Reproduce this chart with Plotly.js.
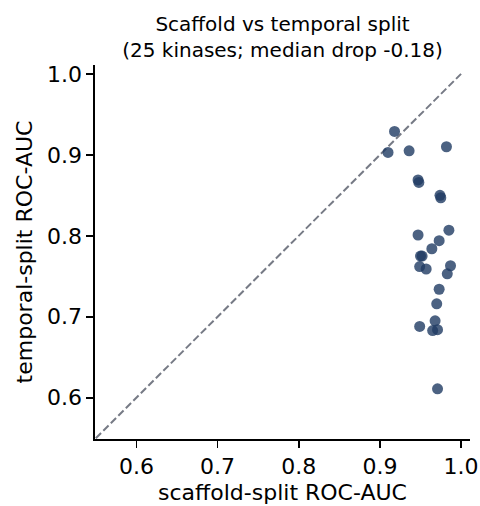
<!DOCTYPE html>
<html>
<head>
<meta charset="utf-8">
<script src="https://cdn.plot.ly/plotly-3.0.1.min.js"></script>
<style>
html,body{margin:0;padding:0;background:#fff;}
#chart{width:480px;height:506px;}
</style>
</head>
<body>
<div id="chart"></div>
<script>
// Data
const scaffoldAUC = [0.918, 0.910, 0.936, 0.982, 0.947, 0.948, 0.974, 0.975, 0.947, 0.985,
                     0.973, 0.964, 0.950, 0.952, 0.949, 0.957, 0.987, 0.983, 0.973, 0.970,
                     0.968, 0.949, 0.965, 0.971, 0.971];
const temporalAUC = [0.929, 0.903, 0.905, 0.910, 0.869, 0.866, 0.850, 0.847, 0.801, 0.807,
                     0.794, 0.784, 0.775, 0.775, 0.762, 0.759, 0.763, 0.753, 0.734, 0.716,
                     0.695, 0.688, 0.683, 0.684, 0.611];
const diagonal = [0.55, 1.0];
const tickVals = [0.6, 0.7, 0.8, 0.9, 1.0];
const tickText = ["0.6", "0.7", "0.8", "0.9", "1.0"];
const axisRange = [0.549, 1.011];

const FONT = "DejaVu Sans, Liberation Sans, sans-serif";

const traces = [
  {
    x: diagonal, y: diagonal, type: "scatter", mode: "lines",
    line: {color: "#767a85", width: 2, dash: "7.4px,3.2px"},
    hoverinfo: "skip", showlegend: false, cliponaxis: true
  },
  {
    x: scaffoldAUC, y: temporalAUC, type: "scatter", mode: "markers",
    marker: {color: "rgb(31,59,99)", opacity: 0.8, size: 11, line: {width: 0}},
    showlegend: false
  }
];

const axisCommon = {
  range: axisRange,
  tickvals: tickVals,
  ticktext: tickText,
  showgrid: false,
  zeroline: false,
  showline: true,
  linecolor: "#000",
  linewidth: 1.6,
  ticks: "outside",
  ticklen: 7,
  tickwidth: 1.6,
  tickcolor: "#000",
  tickfont: {family: FONT, size: 22, color: "#000"},
  mirror: false
};

const layout = {
  width: 480, height: 506,
  margin: {l: 95, r: 10, t: 65, b: 67, pad: 0},
  paper_bgcolor: "#fff", plot_bgcolor: "#fff",
  font: {family: FONT, color: "#000"},
  title: {
    text: "Scaffold vs temporal split<br>(25 kinases; median drop -0.18)",
    font: {family: FONT, size: 20, color: "#000"},
    x: 0.5, xref: "paper", xanchor: "center",
    y: 1 - 31/506, yref: "container", yanchor: "top"
  },
  xaxis: Object.assign({}, axisCommon, {
    title: {text: "scaffold-split ROC-AUC", font: {family: FONT, size: 22, color: "#000"}, standoff: 6}
  }),
  yaxis: Object.assign({}, axisCommon, {
    title: {text: "temporal-split ROC-AUC", font: {family: FONT, size: 22, color: "#000"}, standoff: 8}
  }),
  showlegend: false
};

Plotly.newPlot("chart", traces, layout, {displayModeBar: false, staticPlot: true});
</script>
</body>
</html>
